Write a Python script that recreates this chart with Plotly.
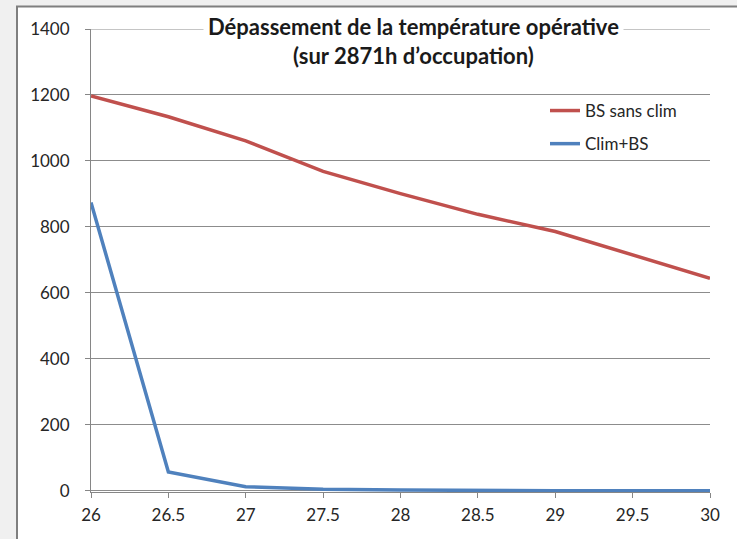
import plotly.graph_objects as go

x_vals = [26, 26.5, 27, 27.5, 28, 28.5, 29, 29.5, 30]
bs_sans_clim = [1197, 1134, 1061, 968, 901, 838, 786, 714, 644]
clim_bs = [874, 57, 12, 4, 2, 0, 0, 0, 0]
y_ticks = [0, 200, 400, 600, 800, 1000, 1200, 1400]
x_ticks = [26, 26.5, 27, 27.5, 28, 28.5, 29, 29.5, 30]

W, H = 737, 539
PL, PR, PT, PB = 91, 710, 29, 492
L, T = PL, PT
R = W - PR
B = H - PB
pw, ph = W - L - R, H - T - B

def px_x(p):
    return (p - PL) / pw

def px_y(p):
    return (PB - p) / ph

fig = go.Figure()
fig.add_trace(go.Scatter(x=x_vals, y=bs_sans_clim, mode="lines", name="BS sans clim",
                         legendgroup="a",
                         line=dict(color="#c0504d", width=3.5)))
fig.add_trace(go.Scatter(x=x_vals, y=clim_bs, mode="lines", name="Clim+BS",
                         legendgroup="b",
                         line=dict(color="#4f81bd", width=3.5)))

font_family = "Lato, 'Open Sans', sans-serif"

fig.update_layout(
    width=W, height=H,
    margin=dict(l=L, r=R, t=T, b=B),
    paper_bgcolor="#f0f0f0",
    plot_bgcolor="rgba(0,0,0,0)",
    font=dict(family=font_family, size=17, color="#262626"),
    showlegend=True,
    legend=dict(x=px_x(545), y=px_y(93), xanchor="left", yanchor="top",
                bgcolor="rgba(0,0,0,0)", font=dict(size=17, color="#262626"),
                tracegroupgap=8, itemwidth=30),
    xaxis=dict(range=[26, 30], tickvals=x_ticks, ticktext=[f"{v:g}" for v in x_ticks],
               showgrid=False, zeroline=False, showline=True, linecolor="#868686",
               linewidth=1, ticks="outside", ticklen=5, tickcolor="#868686",
               ticklabelstandoff=3),
    yaxis=dict(range=[-4, 1400], tickvals=y_ticks, showgrid=True, gridcolor="#8c8c8c",
               gridwidth=1, zeroline=False, showline=True, linecolor="#868686",
               linewidth=1, ticks="outside", ticklen=5, tickcolor="#868686",
               ticklabelstandoff=12),
    shapes=[dict(type="rect", xref="paper", yref="paper", layer="below",
                 x0=px_x(17), x1=px_x(760), y0=px_y(560), y1=px_y(6.5),
                 fillcolor="white", line=dict(color="#7f7f7f", width=2)),
            dict(type="line", xref="paper", yref="y", layer="below",
                 x0=0, x1=1, y0=1400, y1=1400,
                 line=dict(color="#8c8c8c", width=1))],
    annotations=[dict(text="<b>Dépassement de la température opérative</b><br><b>(sur 2871h d’occupation)</b>",
                      xref="paper", yref="paper", x=px_x(413), y=px_y(8),
                      xanchor="center", yanchor="top", showarrow=False,
                      bgcolor="white", borderpad=4,
                      font=dict(size=22, color="#1a1a1a", family=font_family))],
)

fig.write_html("out.html", config={"displayModeBar": False},
               post_script="document.body.style.margin='0';document.body.style.padding='0';")
